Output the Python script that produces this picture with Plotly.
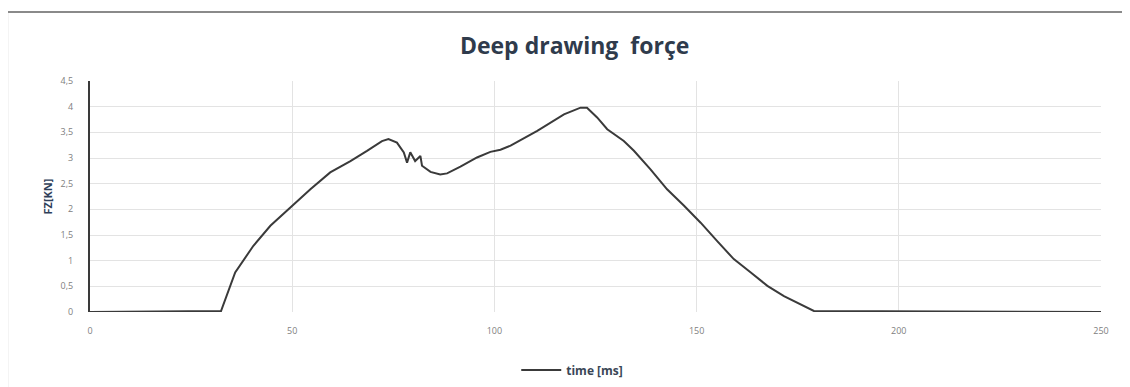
import plotly.graph_objects as go

time_ms = [0, 32.4, 35.9, 40.4, 44.6, 49.5, 54.5, 59.4, 64.4, 68.5, 72.2, 73.8, 75.9, 77.6,
           78.4, 79.2, 80.4, 81.7, 82.1, 84.2, 86.6, 88.3, 91.6, 95.7, 99.0, 101.5, 104.0,
           110.6, 113.9, 117.2, 121.3, 122.9, 125.4, 127.9, 132.0, 134.5, 138.6, 142.7,
           146.9, 151.0, 155.1, 159.2, 163.4, 167.5, 171.6, 175.7, 179.0, 250]
force_kn = [0, 0.02, 0.77, 1.29, 1.68, 2.03, 2.39, 2.72, 2.94, 3.14, 3.33, 3.37, 3.30, 3.11,
            2.91, 3.11, 2.94, 3.04, 2.85, 2.73, 2.68, 2.70, 2.83, 3.01, 3.12, 3.16, 3.24,
            3.53, 3.69, 3.85, 3.98, 3.98, 3.79, 3.56, 3.33, 3.14, 2.78, 2.39,
            2.07, 1.74, 1.38, 1.03, 0.77, 0.51, 0.31, 0.15, 0.02, 0]

x_ticks = [0, 50, 100, 150, 200, 250]
y_ticks = [0, 0.5, 1, 1.5, 2, 2.5, 3, 3.5, 4, 4.5]
y_tick_text = ["0", "0,5", "1", "1,5", "2", "2,5", "3", "3,5", "4", "4,5"]

fig = go.Figure()
fig.add_trace(go.Scatter(x=time_ms, y=force_kn, mode="lines", name="<b>time [ms]</b>",
                         line=dict(color="#3a3a3a", width=2)))

fig.update_layout(
    width=1122, height=379,
    margin=dict(l=82, r=29, t=73, b=75, autoexpand=False),
    paper_bgcolor="white", plot_bgcolor="white",
    title=dict(text="<b>Deep drawing\u00a0 forçe</b>", x=0.505, xanchor="center",
               y=0.9, yanchor="middle",
               font=dict(family="Open Sans, Roboto, sans-serif", size=23, color="#2f3b4c")),
    showlegend=True,
    legend=dict(orientation="h", x=0.477, xanchor="center",
                yref="container", y=0.045, yanchor="middle",
                font=dict(family="Open Sans, sans-serif", size=12, color="#3a4656"),
                itemwidth=40),
    font=dict(family="Open Sans, sans-serif", size=9, color="#7a7a7a"),
)
fig.update_xaxes(range=[0, 250], tickvals=x_ticks, showgrid=True, gridcolor="#e3e3e3",
                 gridwidth=1, zeroline=False, showline=False, ticks="",
                 ticklabelstandoff=12,
                 tickfont=dict(size=9, color="#808080"))
fig.update_yaxes(range=[0, 4.5], tickvals=y_ticks, ticktext=y_tick_text, showgrid=True,
                 gridcolor="#e3e3e3", gridwidth=1, zeroline=False, showline=True,
                 linecolor="#3a3a3a", linewidth=2, ticks="",
                 ticklabelstandoff=13,
                 tickfont=dict(size=9, color="#808080"),
                 title=dict(text="<b>FZ[KN]</b>", standoff=6,
                            font=dict(size=11, color="#2f3f5a")))
fig.add_shape(type="rect", xref="paper", yref="paper", x0=-0.082, x1=1.1, y0=-0.4, y1=1.299,
              line=dict(color="#8a8a8a", width=2), fillcolor="rgba(0,0,0,0)", layer="below")

fig.write_html("out.html")
